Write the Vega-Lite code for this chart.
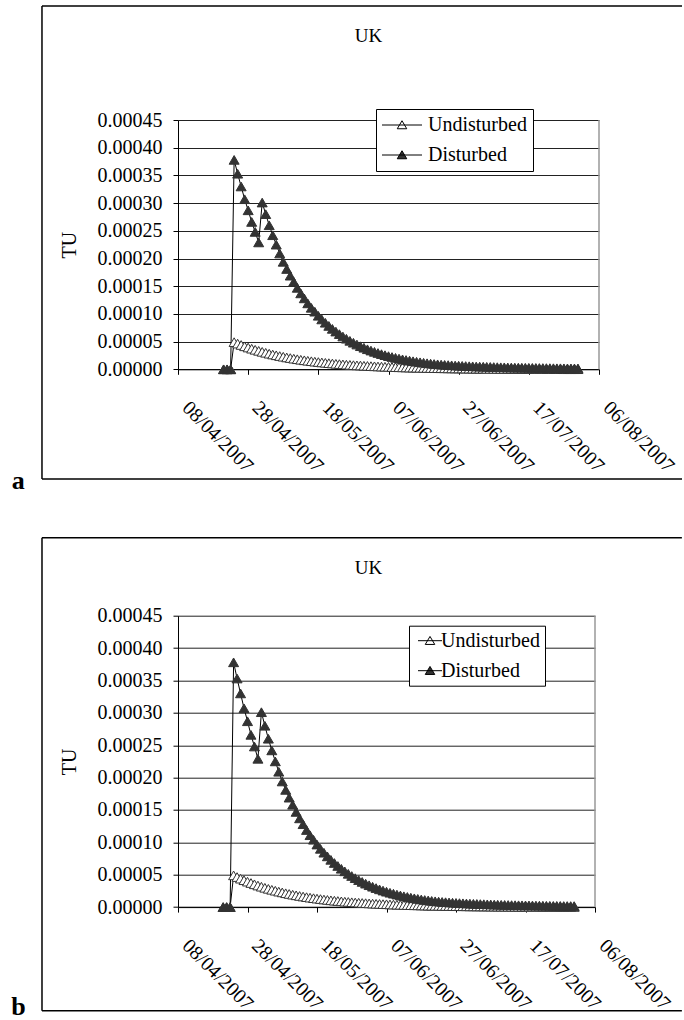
{
  "$schema": "https://vega.github.io/schema/vega-lite/v6.json",
  "autosize": {"type": "pad"},
  "padding": {"left": 11, "top": 5, "right": 0, "bottom": 0},
  "bounds": "flush",
  "spacing": 245.7,
  "resolve": {"scale": {"fill": "independent"}, "legend": {"fill": "independent"}},
  "datasets": {
    "uk": [
      {"date": "2007-04-21", "Undisturbed": 0, "Disturbed": 0},
      {"date": "2007-04-22", "Undisturbed": 0, "Disturbed": 0},
      {"date": "2007-04-23", "Undisturbed": 0, "Disturbed": 0},
      {"date": "2007-04-24", "Undisturbed": 0.0000490, "Disturbed": 0.000378},
      {"date": "2007-04-25", "Undisturbed": 0.0000464, "Disturbed": 0.000353},
      {"date": "2007-04-26", "Undisturbed": 0.0000439, "Disturbed": 0.000330},
      {"date": "2007-04-27", "Undisturbed": 0.0000415, "Disturbed": 0.000307},
      {"date": "2007-04-28", "Undisturbed": 0.0000393, "Disturbed": 0.000287},
      {"date": "2007-04-29", "Undisturbed": 0.0000372, "Disturbed": 0.000266},
      {"date": "2007-04-30", "Undisturbed": 0.0000352, "Disturbed": 0.000248},
      {"date": "2007-05-01", "Undisturbed": 0.0000333, "Disturbed": 0.000229},
      {"date": "2007-05-02", "Undisturbed": 0.0000315, "Disturbed": 0.000301},
      {"date": "2007-05-03", "Undisturbed": 0.0000298, "Disturbed": 0.000280},
      {"date": "2007-05-04", "Undisturbed": 0.0000282, "Disturbed": 0.000260},
      {"date": "2007-05-05", "Undisturbed": 0.0000267, "Disturbed": 0.000242},
      {"date": "2007-05-06", "Undisturbed": 0.0000253, "Disturbed": 0.000225},
      {"date": "2007-05-07", "Undisturbed": 0.0000239, "Disturbed": 0.000209},
      {"date": "2007-05-08", "Undisturbed": 0.0000227, "Disturbed": 0.000194},
      {"date": "2007-05-09", "Undisturbed": 0.0000214, "Disturbed": 0.000181},
      {"date": "2007-05-10", "Undisturbed": 0.0000203, "Disturbed": 0.000169},
      {"date": "2007-05-11", "Undisturbed": 0.0000192, "Disturbed": 0.000158},
      {"date": "2007-05-12", "Undisturbed": 0.0000182, "Disturbed": 0.000147},
      {"date": "2007-05-13", "Undisturbed": 0.0000172, "Disturbed": 0.000137},
      {"date": "2007-05-14", "Undisturbed": 0.0000163, "Disturbed": 0.000128},
      {"date": "2007-05-15", "Undisturbed": 0.0000154, "Disturbed": 0.000119},
      {"date": "2007-05-16", "Undisturbed": 0.0000146, "Disturbed": 0.000111},
      {"date": "2007-05-17", "Undisturbed": 0.0000138, "Disturbed": 0.000104},
      {"date": "2007-05-18", "Undisturbed": 0.0000131, "Disturbed": 0.0000966},
      {"date": "2007-05-19", "Undisturbed": 0.0000124, "Disturbed": 0.0000900},
      {"date": "2007-05-20", "Undisturbed": 0.0000117, "Disturbed": 0.0000840},
      {"date": "2007-05-21", "Undisturbed": 0.0000111, "Disturbed": 0.0000783},
      {"date": "2007-05-22", "Undisturbed": 0.0000105, "Disturbed": 0.0000730},
      {"date": "2007-05-23", "Undisturbed": 0.0000099, "Disturbed": 0.0000681},
      {"date": "2007-05-24", "Undisturbed": 0.0000094, "Disturbed": 0.0000635},
      {"date": "2007-05-25", "Undisturbed": 0.0000089, "Disturbed": 0.0000592},
      {"date": "2007-05-26", "Undisturbed": 0.0000084, "Disturbed": 0.0000552},
      {"date": "2007-05-27", "Undisturbed": 0.0000080, "Disturbed": 0.0000514},
      {"date": "2007-05-28", "Undisturbed": 0.0000075, "Disturbed": 0.0000480},
      {"date": "2007-05-29", "Undisturbed": 0.0000071, "Disturbed": 0.0000447},
      {"date": "2007-05-30", "Undisturbed": 0.0000068, "Disturbed": 0.0000417},
      {"date": "2007-05-31", "Undisturbed": 0.0000064, "Disturbed": 0.0000389},
      {"date": "2007-06-01", "Undisturbed": 0.0000061, "Disturbed": 0.0000362},
      {"date": "2007-06-02", "Undisturbed": 0.0000057, "Disturbed": 0.0000338},
      {"date": "2007-06-03", "Undisturbed": 0.0000054, "Disturbed": 0.0000315},
      {"date": "2007-06-04", "Undisturbed": 0.0000051, "Disturbed": 0.0000294},
      {"date": "2007-06-05", "Undisturbed": 0.0000049, "Disturbed": 0.0000274},
      {"date": "2007-06-06", "Undisturbed": 0.0000046, "Disturbed": 0.0000255},
      {"date": "2007-06-07", "Undisturbed": 0.0000044, "Disturbed": 0.0000238},
      {"date": "2007-06-08", "Undisturbed": 0.0000041, "Disturbed": 0.0000222},
      {"date": "2007-06-09", "Undisturbed": 0.0000039, "Disturbed": 0.0000207},
      {"date": "2007-06-10", "Undisturbed": 0.0000037, "Disturbed": 0.0000193},
      {"date": "2007-06-11", "Undisturbed": 0.0000035, "Disturbed": 0.0000180},
      {"date": "2007-06-12", "Undisturbed": 0.0000033, "Disturbed": 0.0000168},
      {"date": "2007-06-13", "Undisturbed": 0.0000031, "Disturbed": 0.0000157},
      {"date": "2007-06-14", "Undisturbed": 0.0000030, "Disturbed": 0.0000146},
      {"date": "2007-06-15", "Undisturbed": 0.0000028, "Disturbed": 0.0000136},
      {"date": "2007-06-16", "Undisturbed": 0.0000027, "Disturbed": 0.0000127},
      {"date": "2007-06-17", "Undisturbed": 0.0000025, "Disturbed": 0.0000118},
      {"date": "2007-06-18", "Undisturbed": 0.0000024, "Disturbed": 0.0000110},
      {"date": "2007-06-19", "Undisturbed": 0.0000022, "Disturbed": 0.0000103},
      {"date": "2007-06-20", "Undisturbed": 0.0000021, "Disturbed": 0.0000096},
      {"date": "2007-06-21", "Undisturbed": 0.0000020, "Disturbed": 0.0000090},
      {"date": "2007-06-22", "Undisturbed": 0.0000019, "Disturbed": 0.0000085},
      {"date": "2007-06-23", "Undisturbed": 0.0000018, "Disturbed": 0.0000080},
      {"date": "2007-06-24", "Undisturbed": 0.0000017, "Disturbed": 0.0000076},
      {"date": "2007-06-25", "Undisturbed": 0.0000016, "Disturbed": 0.0000072},
      {"date": "2007-06-26", "Undisturbed": 0.0000015, "Disturbed": 0.0000068},
      {"date": "2007-06-27", "Undisturbed": 0.0000014, "Disturbed": 0.0000065},
      {"date": "2007-06-28", "Undisturbed": 0.0000014, "Disturbed": 0.0000062},
      {"date": "2007-06-29", "Undisturbed": 0.0000013, "Disturbed": 0.0000059},
      {"date": "2007-06-30", "Undisturbed": 0.0000012, "Disturbed": 0.0000056},
      {"date": "2007-07-01", "Undisturbed": 0.0000011, "Disturbed": 0.0000054},
      {"date": "2007-07-02", "Undisturbed": 0.0000011, "Disturbed": 0.0000051},
      {"date": "2007-07-03", "Undisturbed": 0.0000010, "Disturbed": 0.0000049},
      {"date": "2007-07-04", "Undisturbed": 0.0000010, "Disturbed": 0.0000047},
      {"date": "2007-07-05", "Undisturbed": 0.0000009, "Disturbed": 0.0000045},
      {"date": "2007-07-06", "Undisturbed": 0.0000009, "Disturbed": 0.0000043},
      {"date": "2007-07-07", "Undisturbed": 0.0000008, "Disturbed": 0.0000041},
      {"date": "2007-07-08", "Undisturbed": 0.0000008, "Disturbed": 0.0000039},
      {"date": "2007-07-09", "Undisturbed": 0.0000007, "Disturbed": 0.0000037},
      {"date": "2007-07-10", "Undisturbed": 0.0000007, "Disturbed": 0.0000036},
      {"date": "2007-07-11", "Undisturbed": 0.0000007, "Disturbed": 0.0000034},
      {"date": "2007-07-12", "Undisturbed": 0.0000006, "Disturbed": 0.0000033},
      {"date": "2007-07-13", "Undisturbed": 0.0000006, "Disturbed": 0.0000031},
      {"date": "2007-07-14", "Undisturbed": 0.0000006, "Disturbed": 0.0000030},
      {"date": "2007-07-15", "Undisturbed": 0.0000005, "Disturbed": 0.0000029},
      {"date": "2007-07-16", "Undisturbed": 0.0000005, "Disturbed": 0.0000028},
      {"date": "2007-07-17", "Undisturbed": 0.0000005, "Disturbed": 0.0000027},
      {"date": "2007-07-18", "Undisturbed": 0.0000004, "Disturbed": 0.0000026},
      {"date": "2007-07-19", "Undisturbed": 0.0000004, "Disturbed": 0.0000025},
      {"date": "2007-07-20", "Undisturbed": 0.0000004, "Disturbed": 0.0000024},
      {"date": "2007-07-21", "Undisturbed": 0.0000004, "Disturbed": 0.0000023},
      {"date": "2007-07-22", "Undisturbed": 0.0000003, "Disturbed": 0.0000022},
      {"date": "2007-07-23", "Undisturbed": 0.0000003, "Disturbed": 0.0000021},
      {"date": "2007-07-24", "Undisturbed": 0.0000003, "Disturbed": 0.0000020},
      {"date": "2007-07-25", "Undisturbed": 0.0000003, "Disturbed": 0.0000019},
      {"date": "2007-07-26", "Undisturbed": 0.0000003, "Disturbed": 0.0000019},
      {"date": "2007-07-27", "Undisturbed": 0.0000002, "Disturbed": 0.0000018},
      {"date": "2007-07-28", "Undisturbed": 0.0000002, "Disturbed": 0.0000017},
      {"date": "2007-07-29", "Undisturbed": 0.0000002, "Disturbed": 0.0000017},
      {"date": "2007-07-30", "Undisturbed": 0.0000002, "Disturbed": 0.0000016},
      {"date": "2007-07-31", "Undisturbed": 0.0000002, "Disturbed": 0.0000016}
    ]
  },
  "vconcat": [
    {
      "width": 421,
      "height": 249.3,
      "title": {"text": "UK", "dx": -20, "offset": -41},
      "layer": [
        {
          "data": {"values": [{}]},
          "mark": {"type": "rule", "clip": false, "color": "#000", "strokeWidth": 1.5},
          "encoding": {
            "x": {"datum": {"year": 2007, "month": 2, "date": 28, "hours": 5, "minutes": 30, "utc": true}, "type": "temporal", "scale": {"type": "utc", "domain": [{"year": 2007, "month": 4, "date": 8, "utc": true}, {"year": 2007, "month": 8, "date": 6, "utc": true}]},
              "axis": {"title": null, "grid": false, "tickCount": 12, "values": [{"year": 2007, "month": 4, "date": 8, "utc": true}, {"year": 2007, "month": 4, "date": 28, "utc": true}, {"year": 2007, "month": 5, "date": 18, "utc": true}, {"year": 2007, "month": 6, "date": 7, "utc": true}, {"year": 2007, "month": 6, "date": 27, "utc": true}, {"year": 2007, "month": 7, "date": 17, "utc": true}, {"year": 2007, "month": 8, "date": 6, "utc": true}], "format": "%d/%m/%Y", "labelAngle": 45, "labelAlign": "left", "labelBaseline": "top", "labelOffset": 14, "labelPadding": 23, "labelFlush": false, "labelOverlap": false, "labelBound": false}},
            "x2": {"datum": {"year": 2007, "month": 8, "date": 29, "hours": 16, "utc": true}},
            "y": {"datum": 0.00065576, "type": "quantitative", "scale": {"domain": [0, 0.00045], "nice": false, "zero": false},
              "axis": {"title": "TU", "tickCount": 12, "values": [0, 0.00005, 0.0001, 0.00015, 0.0002, 0.00025, 0.0003, 0.00035, 0.0004, 0.00045], "format": ".5f", "grid": true, "labelOverlap": false, "labelFlush": false, "labelBound": false}}
          }
        },
        {
          "data": {"values": [{}]},
          "mark": {"type": "rule", "clip": false, "color": "#000", "strokeWidth": 1.5},
          "encoding": {
            "x": {"datum": {"year": 2007, "month": 2, "date": 28, "hours": 5, "minutes": 30, "utc": true}, "type": "temporal"},
            "x2": {"datum": {"year": 2007, "month": 8, "date": 29, "hours": 16, "utc": true}},
            "y": {"datum": -0.00019801, "type": "quantitative"}
          }
        },
        {
          "data": {"values": [{}]},
          "mark": {"type": "rule", "clip": false, "color": "#000", "strokeWidth": 1.5},
          "encoding": {
            "x": {"datum": {"year": 2007, "month": 2, "date": 28, "hours": 5, "minutes": 30, "utc": true}, "type": "temporal"},
            "y": {"datum": 0.00065576, "type": "quantitative"},
            "y2": {"datum": -0.00019801}
          }
        },
        {
          "data": {"values": [{}]},
          "mark": {"type": "rule", "clip": false, "color": "#999999", "strokeWidth": 1.5},
          "encoding": {
            "x": {"datum": {"year": 2007, "month": 8, "date": 6, "utc": true}, "type": "temporal"},
            "y": {"datum": 0, "type": "quantitative"},
            "y2": {"datum": 0.00045}
          }
        },
        {
          "data": {"values": [{}]},
          "mark": {"type": "text", "clip": false, "text": "a", "font": "Liberation Serif", "fontSize": 26, "fontWeight": "bold", "color": "#000", "align": "center", "baseline": "middle"},
          "encoding": {
            "x": {"datum": {"year": 2007, "month": 2, "date": 21, "hours": 11, "utc": true}, "type": "temporal"},
            "y": {"datum": -0.0002016, "type": "quantitative"}
          }
        },
        {
          "data": {"name": "uk"},
          "transform": [{"fold": ["Undisturbed", "Disturbed"], "as": ["series", "value"]}],
          "mark": {"type": "line", "color": "#000", "strokeWidth": 1},
          "encoding": {
            "x": {"field": "date", "type": "temporal"},
            "y": {"field": "value", "type": "quantitative"},
            "detail": {"field": "series"}
          }
        },
        {
          "data": {"name": "uk"},
          "transform": [{"fold": ["Undisturbed", "Disturbed"], "as": ["series", "value"]}],
          "mark": {"type": "point", "shape": "triangle-up", "filled": true, "size": 100, "stroke": "#333", "strokeWidth": 1, "opacity": 1},
          "encoding": {
            "x": {"field": "date", "type": "temporal"},
            "y": {"field": "value", "type": "quantitative"},
            "fill": {"field": "series", "type": "nominal", "scale": {"domain": ["Undisturbed", "Disturbed"], "range": ["#ffffff", "#333333"]}, "legend": {"legendX": 198, "legendY": -11, "padding": 6, "symbolType": "M-4,0H4M0,-0.85L0.95,0.75L-0.95,0.75Z", "symbolOffset": 10, "labelOffset": 16}},
            "order": {"field": "series", "sort": "descending"}
          }
        }
      ]
    },
    {
      "width": 417,
      "height": 291.4,
      "title": {"text": "UK", "dx": -18, "offset": -41},
      "layer": [
        {
          "data": {"values": [{}]},
          "mark": {"type": "rule", "clip": false, "color": "#000", "strokeWidth": 1.5},
          "encoding": {
            "x": {"datum": {"year": 2007, "month": 2, "date": 27, "hours": 20, "minutes": 40, "utc": true}, "type": "temporal", "scale": {"type": "utc", "domain": [{"year": 2007, "month": 4, "date": 8, "utc": true}, {"year": 2007, "month": 8, "date": 6, "utc": true}]},
              "axis": {"title": null, "grid": false, "tickCount": 12, "values": [{"year": 2007, "month": 4, "date": 8, "utc": true}, {"year": 2007, "month": 4, "date": 28, "utc": true}, {"year": 2007, "month": 5, "date": 18, "utc": true}, {"year": 2007, "month": 6, "date": 7, "utc": true}, {"year": 2007, "month": 6, "date": 27, "utc": true}, {"year": 2007, "month": 7, "date": 17, "utc": true}, {"year": 2007, "month": 8, "date": 6, "utc": true}], "format": "%d/%m/%Y", "labelAngle": 45, "labelAlign": "left", "labelBaseline": "top", "labelOffset": 14, "labelPadding": 23, "labelFlush": false, "labelOverlap": false, "labelBound": false}},
            "x2": {"datum": {"year": 2007, "month": 8, "date": 31, "utc": true}},
            "y": {"datum": 0.00057046, "type": "quantitative", "scale": {"domain": [0, 0.00045], "nice": false, "zero": false},
              "axis": {"title": "TU", "tickCount": 12, "values": [0, 0.00005, 0.0001, 0.00015, 0.0002, 0.00025, 0.0003, 0.00035, 0.0004, 0.00045], "format": ".5f", "grid": true, "labelOverlap": false, "labelFlush": false, "labelBound": false}}
          }
        },
        {
          "data": {"values": [{}]},
          "mark": {"type": "rule", "clip": false, "color": "#000", "strokeWidth": 1.5},
          "encoding": {
            "x": {"datum": {"year": 2007, "month": 2, "date": 27, "hours": 20, "minutes": 40, "utc": true}, "type": "temporal"},
            "x2": {"datum": {"year": 2007, "month": 8, "date": 31, "utc": true}},
            "y": {"datum": -0.00015999, "type": "quantitative"}
          }
        },
        {
          "data": {"values": [{}]},
          "mark": {"type": "rule", "clip": false, "color": "#000", "strokeWidth": 1.5},
          "encoding": {
            "x": {"datum": {"year": 2007, "month": 2, "date": 27, "hours": 20, "minutes": 40, "utc": true}, "type": "temporal"},
            "y": {"datum": 0.00057046, "type": "quantitative"},
            "y2": {"datum": -0.00015999}
          }
        },
        {
          "data": {"values": [{}]},
          "mark": {"type": "rule", "clip": false, "color": "#999999", "strokeWidth": 1.5},
          "encoding": {
            "x": {"datum": {"year": 2007, "month": 8, "date": 6, "utc": true}, "type": "temporal"},
            "y": {"datum": 0, "type": "quantitative"},
            "y2": {"datum": 0.00045}
          }
        },
        {
          "data": {"values": [{}]},
          "mark": {"type": "text", "clip": false, "text": "b", "font": "Liberation Serif", "fontSize": 26, "fontWeight": "bold", "color": "#000", "align": "center", "baseline": "middle"},
          "encoding": {
            "x": {"datum": {"year": 2007, "month": 2, "date": 21, "hours": 2, "utc": true}, "type": "temporal"},
            "y": {"datum": -0.00015381, "type": "quantitative"}
          }
        },
        {
          "data": {"name": "uk"},
          "transform": [{"fold": ["Undisturbed", "Disturbed"], "as": ["series", "value"]}],
          "mark": {"type": "line", "color": "#000", "strokeWidth": 1},
          "encoding": {
            "x": {"field": "date", "type": "temporal"},
            "y": {"field": "value", "type": "quantitative"},
            "detail": {"field": "series"}
          }
        },
        {
          "data": {"name": "uk"},
          "transform": [{"fold": ["Undisturbed", "Disturbed"], "as": ["series", "value"]}],
          "mark": {"type": "point", "shape": "triangle-up", "filled": true, "size": 100, "stroke": "#333", "strokeWidth": 1, "opacity": 1},
          "encoding": {
            "x": {"field": "date", "type": "temporal"},
            "y": {"field": "value", "type": "quantitative"},
            "fill": {"field": "series", "type": "nominal", "scale": {"domain": ["Undisturbed", "Disturbed"], "range": ["#ffffff", "#333333"]}, "legend": {"legendX": 231, "legendY": 10, "padding": 5, "symbolType": "M-2.4,0H2.4M0,-0.85L0.95,0.75L-0.95,0.75Z", "symbolOffset": 6, "labelOffset": 1}},
            "order": {"field": "series", "sort": "descending"}
          }
        }
      ]
    }
  ],
  "config": {
    "font": "Liberation Serif",
    "view": {"stroke": null},
    "title": {"fontSize": 19, "fontWeight": "normal", "color": "#000", "anchor": "middle", "frame": "group"},
    "axis": {"domainColor": "#000", "domainWidth": 1, "tickColor": "#000", "tickSize": 5, "labelColor": "#000", "labelFontSize": 20, "labelFont": "Liberation Serif", "titleFont": "Liberation Serif", "titleFontSize": 20, "titleFontWeight": "normal", "titleColor": "#000", "gridColor": "#222222", "gridWidth": 1, "gridOpacity": 1},
    "axisY": {"labelPadding": 11, "titlePadding": 18},
    "legend": {"orient": "none", "title": null, "direction": "vertical", "strokeColor": "#000", "fillColor": "#fff", "symbolSize": 100, "symbolStrokeColor": "#000", "symbolStrokeWidth": 1, "labelFontSize": 20, "labelFont": "Liberation Serif", "labelColor": "#000", "rowPadding": 10, "cornerRadius": 0}
  }
}
